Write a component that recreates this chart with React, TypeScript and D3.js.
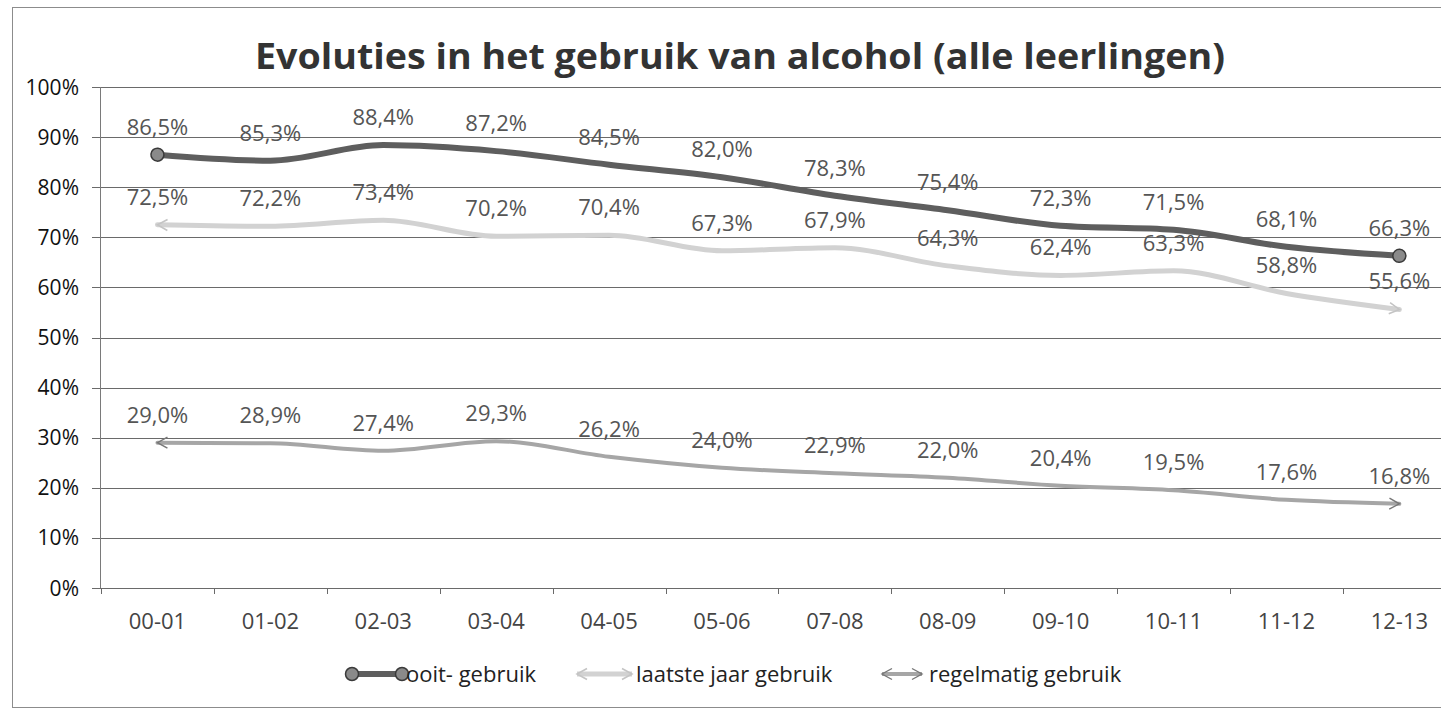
import React from 'react';
import * as d3 from 'd3';

const categories = ['00-01', '01-02', '02-03', '03-04', '04-05', '05-06', '07-08', '08-09', '09-10', '10-11', '11-12', '12-13'];
const ooitGebruik = [86.5, 85.3, 88.4, 87.2, 84.5, 82.0, 78.3, 75.4, 72.3, 71.5, 68.1, 66.3];
const laatsteJaarGebruik = [72.5, 72.2, 73.4, 70.2, 70.4, 67.3, 67.9, 64.3, 62.4, 63.3, 58.8, 55.6];
const regelmatigGebruik = [29.0, 28.9, 27.4, 29.3, 26.2, 24.0, 22.9, 22.0, 20.4, 19.5, 17.6, 16.8];
const seriesNames = ['ooit- gebruik', 'laatste jaar gebruik', 'regelmatig gebruik'];
const yTickValues = [0, 10, 20, 30, 40, 50, 60, 70, 80, 90, 100];
const chartTitle = 'Evoluties in het gebruik van alcohol (alle leerlingen)';

const W = 1441;
const H = 710;
const FONT = "'Open Sans', 'DejaVu Sans', sans-serif";

const fmt = (v: number) => d3.format('.1f')(v).replace('.', ',') + '%';

export default function App() {
  const x = d3.scaleBand<string>().domain(categories).range([101, 101 + 12 * 112.9]);
  const bw = x.bandwidth();
  const cx = (c: string) => (x(c) as number) + bw / 2;
  const y = d3.scaleLinear().domain([0, 100]).range([588, 87]);

  const line = d3
    .line<number>()
    .x((_, i) => cx(categories[i]))
    .y((d) => y(d))
    .curve(d3.curveMonotoneX);

  const series = [
    { name: seriesNames[0], values: ooitGebruik, color: '#5e5e5e', width: 6, start: 'url(#dotDark)', end: 'url(#dotDark)' },
    { name: seriesNames[1], values: laatsteJaarGebruik, color: '#d2d2d2', width: 5, start: 'url(#arrowLight)', end: 'url(#arrowLight)' },
    { name: seriesNames[2], values: regelmatigGebruik, color: '#a6a6a6', width: 4, start: 'url(#arrowMid)', end: 'url(#arrowMid)' },
  ];

  const legendItems = [
    { sx1: 352, sx2: 402, tx: 406 },
    { sx1: 577, sx2: 632, tx: 636 },
    { sx1: 882, sx2: 922, tx: 929 },
  ];
  const legendY = 674;

  const boundaries = categories.map((c) => x(c) as number).concat([(x(categories[categories.length - 1]) as number) + bw]);

  return (
    <svg width={W} height={H} style={{ position: 'absolute', left: 0, top: 0, background: '#fff' }} fontFamily={FONT}>
      <defs>
        <marker id="dotDark" viewBox="0 0 16 16" refX={8} refY={8} markerWidth={16} markerHeight={16} markerUnits="userSpaceOnUse" orient="auto">
          <circle cx={8} cy={8} r={6.5} fill="#8a8a8a" stroke="#3a3a3a" strokeWidth={1.5} />
        </marker>
        <marker id="arrowLight" viewBox="0 0 16 14" refX={13} refY={7} markerWidth={16} markerHeight={14} markerUnits="userSpaceOnUse" orient="auto-start-reverse">
          <path d="M3,1.5 L13,7 L3,12.5" fill="none" stroke="#c4c4c4" strokeWidth={1.6} />
        </marker>
        <marker id="arrowMid" viewBox="0 0 16 14" refX={13} refY={7} markerWidth={16} markerHeight={14} markerUnits="userSpaceOnUse" orient="auto-start-reverse">
          <path d="M3,1.5 L13,7 L3,12.5" fill="none" stroke="#777" strokeWidth={1.4} />
        </marker>
      </defs>

      <rect x={12.5} y={7.5} width={W + 20} height={700} fill="#fff" stroke="#8c8c8c" strokeWidth={1} />

      <text x={255} y={69} fontSize={36} fontWeight={700} fill="#333" textLength={970} lengthAdjust="spacingAndGlyphs">
        {chartTitle}
      </text>

      {yTickValues.map((t) => (
        <g key={t}>
          <line x1={92} x2={W} y1={Math.round(y(t)) + 0.5} y2={Math.round(y(t)) + 0.5} stroke="#6a6a6a" strokeWidth={1} />
          <text x={79} y={y(t)} dy="0.36em" textAnchor="end" fontSize={21} fill="#111">
            {t}%
          </text>
        </g>
      ))}
      <line x1={100.5} x2={100.5} y1={y(100)} y2={y(0)} stroke="#7a7a7a" strokeWidth={1} />
      {boundaries.map((b, i) => (
        <line key={i} x1={Math.round(b) + 0.5} x2={Math.round(b) + 0.5} y1={y(0)} y2={y(0) + 6} stroke="#6a6a6a" strokeWidth={1} />
      ))}
      {categories.map((c) => (
        <text key={c} x={cx(c)} y={629} textAnchor="middle" fontSize={22} fill="#444">
          {c}
        </text>
      ))}

      {series.map((s) => (
        <path key={s.name} d={line(s.values) as string} fill="none" stroke={s.color} strokeWidth={s.width} strokeLinecap="round" strokeLinejoin="round" markerStart={s.start} markerEnd={s.end} />
      ))}

      {series.map((s) =>
        s.values.map((v, i) => (
          <text key={s.name + i} x={cx(categories[i])} y={y(v) - 20} textAnchor="middle" fontSize={22} fill="#555">
            {fmt(v)}
          </text>
        ))
      )}

      {series.map((s, i) => {
        const li = legendItems[i];
        return (
          <g key={'lg' + i}>
            <line x1={li.sx1} x2={li.sx2} y1={legendY} y2={legendY} stroke={s.color} strokeWidth={s.width} markerStart={s.start} markerEnd={s.end} />
            <text x={li.tx} y={legendY + 8} fontSize={22} fill="#222">
              {s.name}
            </text>
          </g>
        );
      })}
    </svg>
  );
}
